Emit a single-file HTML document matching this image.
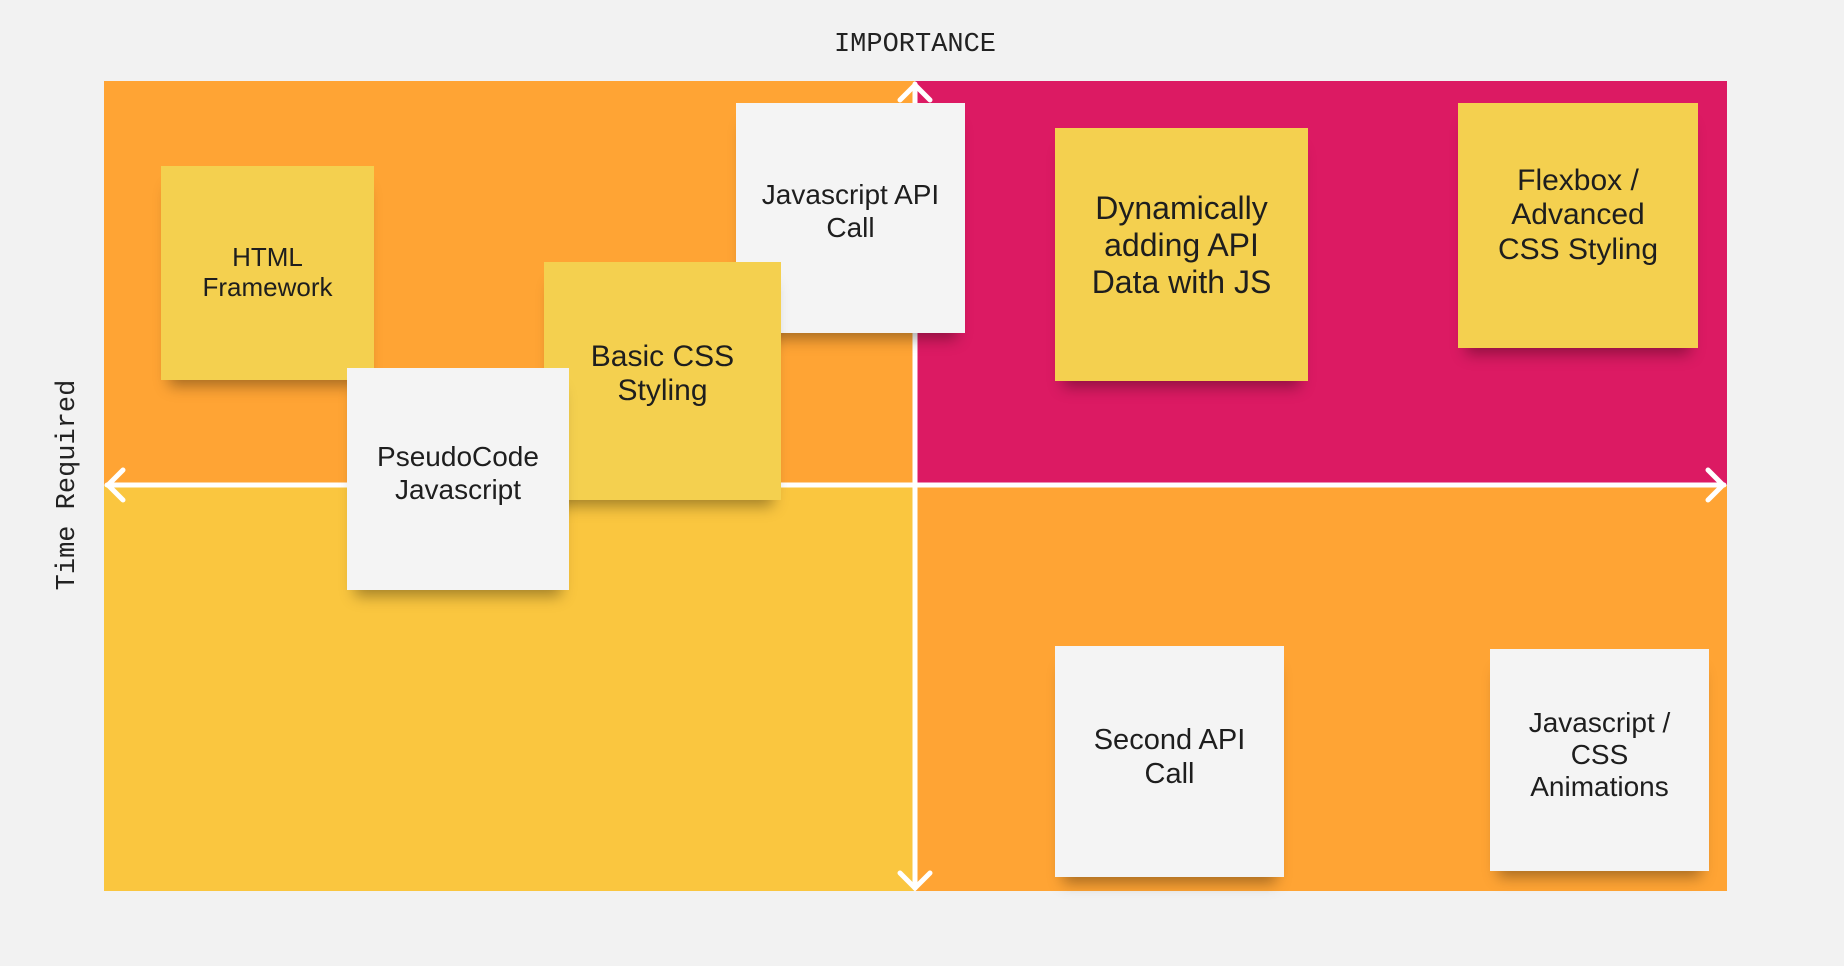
<!DOCTYPE html>
<html><head><style>
body{margin:0;width:1844px;height:966px;background:#f2f2f2;position:relative;overflow:hidden;font-family:"Liberation Sans","DejaVu Sans",sans-serif}
.q{position:absolute}
.n{position:absolute;display:flex;align-items:center;justify-content:center;text-align:center;color:#1e1e1e;line-height:1.15;box-shadow:0 14px 14px -8px rgba(0,0,0,.35);box-sizing:border-box;padding:10px}
.y{background:#f4d04f}.w{background:#f4f4f4}
.lab{position:absolute;font-family:"Liberation Mono",monospace;font-size:27px;color:#222;white-space:nowrap}
</style></head><body>
<div class="q" style="left:104px;top:81px;width:811px;height:404px;background:#ffa434"></div>
<div class="q" style="left:915px;top:81px;width:812px;height:404px;background:#dc1a63"></div>
<div class="q" style="left:104px;top:485px;width:811px;height:406px;background:#fac63f"></div>
<div class="q" style="left:915px;top:485px;width:812px;height:406px;background:#ffa434"></div>
<svg class="q" style="left:0;top:0" width="1844" height="966">
<g stroke="#fff" stroke-width="5" fill="none" stroke-linecap="round">
<line x1="915" y1="84" x2="915" y2="888"/>
<line x1="107" y1="485" x2="1724" y2="485"/>
<polyline points="900,100 915,85 930,100"/>
<polyline points="900,873 915,888 930,873"/>
<polyline points="123,470 108,485 123,500"/>
<polyline points="1708,470 1723,485 1708,500"/>
</g></svg>
<div class="lab" style="left:815px;top:30px;width:200px;text-align:center">IMPORTANCE</div>
<div class="lab" style="left:-82px;top:470px;width:300px;text-align:center;transform:rotate(-90deg)">Time Required</div>
<div class="n y" style="left:161px;top:166px;width:213px;height:214px;font-size:26px">HTML<br>Framework</div>
<div class="n w" style="left:736px;top:103px;width:229px;height:230px;font-size:28px;padding-bottom:23px">Javascript API<br>Call</div>
<div class="n y" style="left:544px;top:262px;width:237px;height:238px;font-size:30px;padding-bottom:24px">Basic CSS<br>Styling</div>
<div class="n w" style="left:347px;top:368px;width:222px;height:222px;font-size:28px;padding-bottom:21px">PseudoCode<br>Javascript</div>
<div class="n y" style="left:1055px;top:128px;width:253px;height:253px;font-size:32px;padding-bottom:28px">Dynamically<br>adding API<br>Data with JS</div>
<div class="n y" style="left:1458px;top:103px;width:240px;height:245px;font-size:30px;padding-bottom:30px">Flexbox /<br>Advanced<br>CSS Styling</div>
<div class="n w" style="left:1055px;top:646px;width:229px;height:231px;font-size:29px;padding-bottom:18px">Second API<br>Call</div>
<div class="n w" style="left:1490px;top:649px;width:219px;height:222px;font-size:28px;padding-bottom:20px">Javascript /<br>CSS<br>Animations</div>
</body></html>
